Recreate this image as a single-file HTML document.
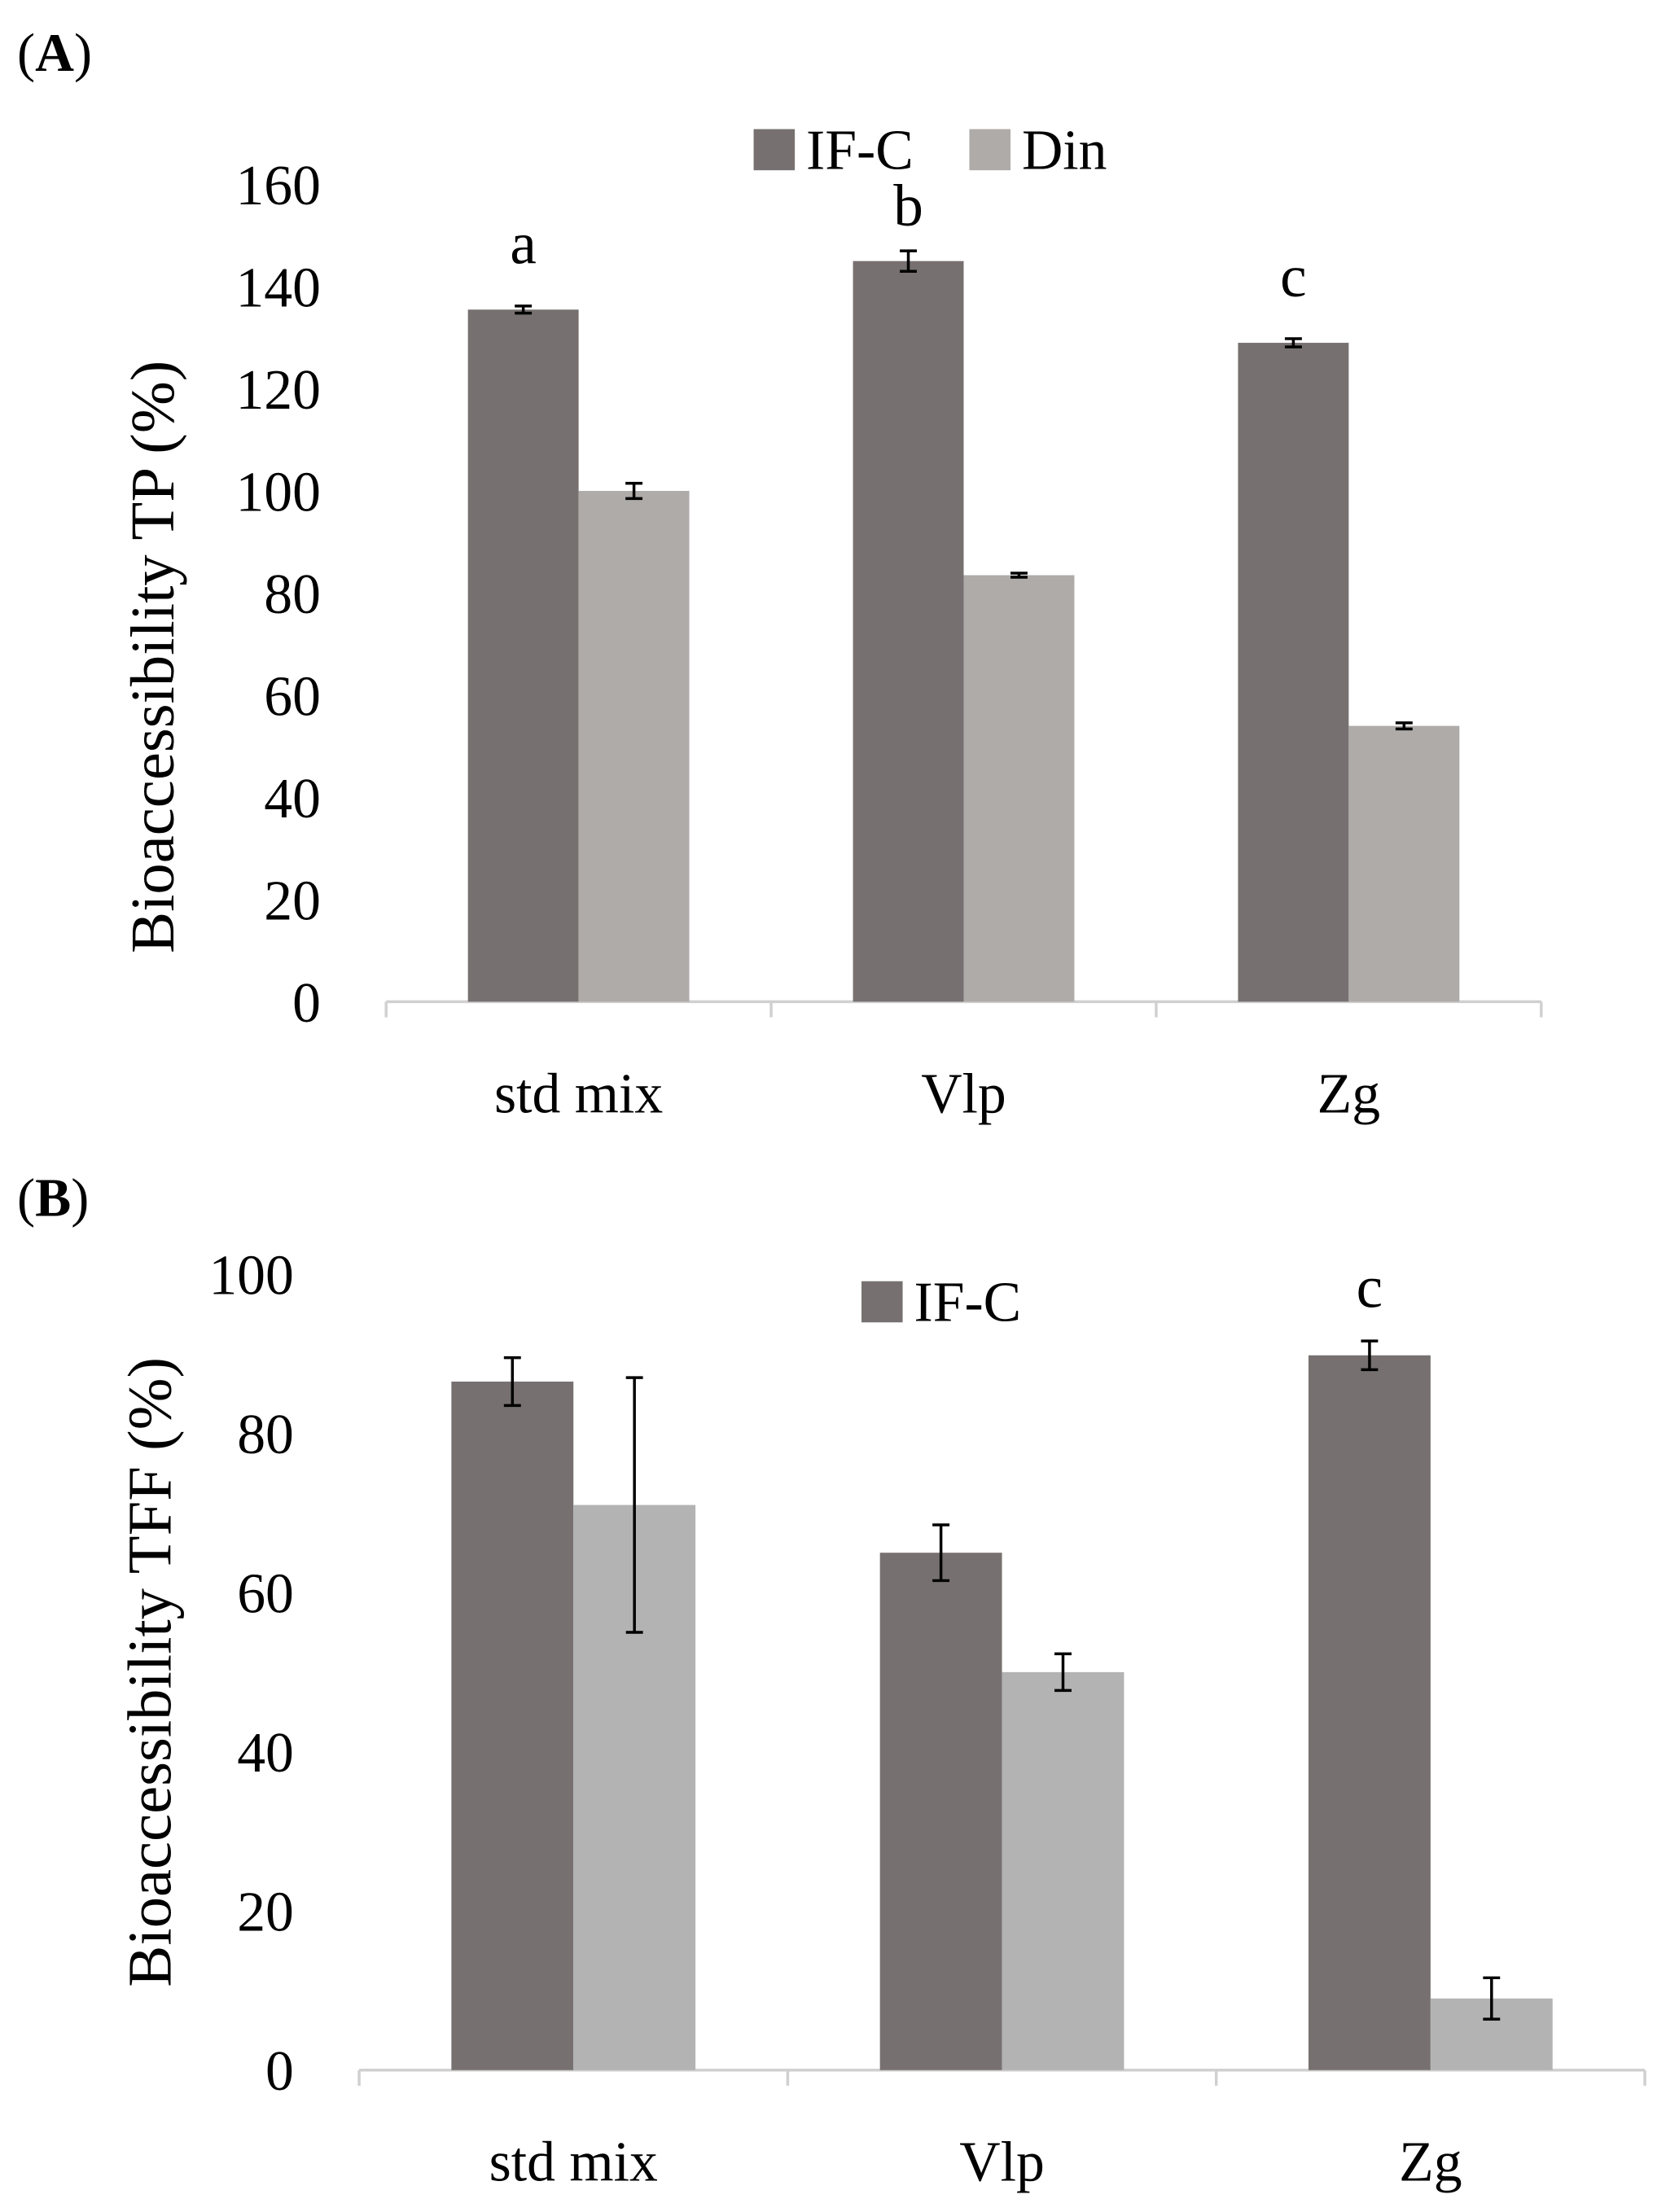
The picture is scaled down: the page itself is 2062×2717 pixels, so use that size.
<!DOCTYPE html>
<html><head><meta charset="utf-8"><style>
html,body{margin:0;padding:0;background:#fff;}
svg{display:block;}
text{font-family:"Liberation Serif",serif;fill:#000;}
</style></head><body>
<svg id="chart" width="2062" height="2717" viewBox="0 0 1183 1559" xmlns="http://www.w3.org/2000/svg">
<g id="pa"></g>
<g id="pb"></g>
</svg>
<script>
const categories = ["std mix","Vlp","Zg"];
const aIFC = [135.5,145,129];
const aIFCerr = [0.7,2,0.8];
const aDin = [100,83.5,54];
const aDinErr = [1.5,0.4,0.6];
const aLetters = ["a","b","c"];
const aTicks = [0,20,40,60,80,100,120,140,160];
const bIFC = [86.5,65,89.8];
const bIFCerr = [3,3.5,1.8];
const bDin = [71,50,9];
const bDinErr = [16,2.3,2.6];
const bLetters = ["","","c"];
const bTicks = [0,20,40,60,80,100];

const NS="http://www.w3.org/2000/svg";
function mk(parent,tag,attrs,text){const e=document.createElementNS(NS,tag);for(const k in attrs)e.setAttribute(k,attrs[k]);if(text!==undefined)e.textContent=text;parent.appendChild(e);return e;}

function panel(g,cfg){
  const y=v=>cfg.y0-(v-0)/cfg.vmax*(cfg.y0-cfg.yTop);
  const cw=(cfg.x1-cfg.x0)/categories.length;
  let t=mk(g,'text',{x:12,y:cfg.labelY,'font-size':38},'');
  
  
  mk(t,'tspan',{},'(');mk(t,'tspan',{'font-weight':'bold'},cfg.label);mk(t,'tspan',{},')');
  cfg.ticks.forEach(v=>{
    const e=mk(g,'text',{x:cfg.tickX,y:y(v)+14,'font-size':40,'text-anchor':'end'},String(v));
    
    
  });
  const cy=(cfg.y0+cfg.yTop)/2+cfg.titleShift;
  const yt=mk(g,'text',{x:0,y:0,'font-size':44,'text-anchor':'middle',transform:`translate(${cfg.titleX},${cy}) rotate(-90)`},cfg.title);
  
  
  const ax=mk(g,'line',{x1:cfg.x0,x2:cfg.x1,y1:cfg.y0,y2:cfg.y0,stroke:'#d0d0d0','stroke-width':2});
  
  
  for(let i=0;i<=categories.length;i++){
    const tk=mk(g,'line',{x1:cfg.x0+i*cw,x2:cfg.x0+i*cw,y1:cfg.y0,y2:cfg.y0+11,stroke:'#d0d0d0','stroke-width':2});
    
    
  }
  categories.forEach((c,i)=>{
    const cx=cfg.x0+cw*(i+0.5);
    const series=[[cfg.s1,cfg.e1,cfg.c1,-1],[cfg.s2,cfg.e2,cfg.c2,0]];
    series.forEach(([s,e,col,off],k)=>{
      const bx=cx+off*cfg.bw;
      const r=mk(g,'rect',{x:bx,y:y(s[i]),width:cfg.bw,height:cfg.y0-y(s[i]),fill:col});
      
      
      const mx=bx+cfg.bw/2, yt2=y(s[i]+e[i]), yb=y(s[i]-e[i]);
      const eb=mk(g,'path',{d:`M${mx},${yt2}V${yb}M${mx-6},${yt2}H${mx+6}M${mx-6},${yb}H${mx+6}`,stroke:'#000','stroke-width':2,fill:'none'});
      
      
    });
    if(cfg.letters[i]){
      const lx=cx-cfg.bw/2;
      const lt=mk(g,'text',{x:lx,y:y(cfg.s1[i]+cfg.e1[i])-cfg.letterGap[i],'font-size':42,'text-anchor':'middle'},cfg.letters[i]);
      
      
    }
    const cl=mk(g,'text',{x:cx,y:cfg.y0+78,'font-size':40,'text-anchor':'middle'},c);
    
    
  });
  cfg.legend.forEach(([lx,name,col])=>{
    const lg=mk(g,'g',{});
    
    
    mk(lg,'rect',{x:lx,y:cfg.legY,width:29,height:29,fill:col});
    mk(lg,'text',{x:lx+37,y:cfg.legY+28,'font-size':40},name);
  });
}
panel(document.getElementById('pa'),{label:'A',labelY:50,y0:706,yTop:130,vmax:160,x0:272,x1:1086,bw:78,
  s1:aIFC,e1:aIFCerr,s2:aDin,e2:aDinErr,c1:'#767170',c2:'#afaba9',letters:aLetters,letterGap:[30,18,30],
  ticks:aTicks,tickX:226,title:'Bioaccessibility TP (%)',titleX:122,titleShift:45,
  legY:91,legend:[[531,'IF-C','#767170'],[683,'Din','#afaba9']]});
panel(document.getElementById('pb'),{label:'B',labelY:857,y0:1459,yTop:898,vmax:100,x0:253,x1:1159,bw:86,
  s1:bIFC,e1:bIFCerr,s2:bDin,e2:bDinErr,c1:'#767170',c2:'#b3b3b3',letters:bLetters,letterGap:[22,22,24],
  ticks:bTicks,tickX:207,title:'Bioaccessibility TFF (%)',titleX:120,titleShift:0,
  legY:903,legend:[[607,'IF-C','#767170']]});
</script>
</body></html>
